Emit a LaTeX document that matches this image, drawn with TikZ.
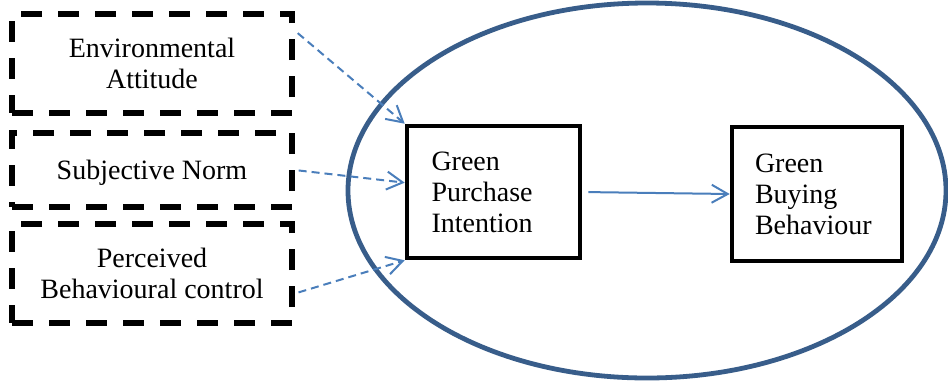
\documentclass[tikz,border=0pt]{standalone}
\usepackage{fontspec}
\setmainfont{Liberation Serif}
\usepackage{xcolor}
\usetikzlibrary{arrows.meta}
\usetikzlibrary{math}

\definecolor{ringblue}{RGB}{56,93,138}
\definecolor{linkblue}{RGB}{74,126,187}

\begin{document}
\begin{tikzpicture}[x=0.5pt,y=-0.5pt,
    font=\fontsize{14}{15.5}\selectfont,
    dashbox/.style={draw, line width=2.7pt, dash pattern=on 10.5pt off 8pt,
      minimum width=140pt, align=center, inner sep=0pt},
    solidbox/.style={draw, line width=2.3pt, text width=62pt, align=left,
      inner xsep=11.5pt, inner ysep=0pt},
    dasharrow/.style={draw=linkblue, line width=1pt, dash pattern=on 4pt off 2.5pt,
      -{Straight Barb[length=8pt,width=9pt]}, shorten <=2pt},
    solidarrow/.style={draw=linkblue, line width=1pt,
      -{Straight Barb[length=8pt,width=9pt]}, shorten <=3pt}]

  \tikzmath{
    \cx = 647;   % centre of the ring
    \cy = 190.5;
    \rx = 299;   % half axes of the ring
    \ry = 187.5;
  }

  \useasboundingbox (0,0) rectangle (948,381);

  % Ring round the two outcome boxes
  \draw[ringblue, line width=2.4pt] (\cx,\cy) ellipse [x radius=\rx, y radius=\ry];

  % Three antecedents on the left
  \node[dashbox, minimum height=49.5pt] (envatt)  at (152,63.5)  {Environmental\\Attitude};
  \node[dashbox, minimum height=37pt, text height=12.5pt] (subnorm) at (152,170) {Subjective Norm};
  \node[dashbox, minimum height=49.5pt] (pbc)     at (152,273.5) {Perceived\\Behavioural control};

  % Intention and behaviour
  \node[solidbox, minimum width=86.5pt, minimum height=66pt] (gpi) at (493.5,192)
    {Green\\Purchase\\Intention};
  \node[solidbox, minimum width=85pt, minimum height=67pt] (gbb) at (817,194)
    {Green\\Buying\\Behaviour};

  % Links
  \draw[dasharrow] (envatt.13) -- (gpi.north west);
  \draw[dasharrow] (subnorm.east) -- (gpi.174);
  \draw[dasharrow] (pbc.-8) -- (gpi.south west);
  \draw[solidarrow] (gpi.east) -- (gbb.west);

\end{tikzpicture}
\end{document}
